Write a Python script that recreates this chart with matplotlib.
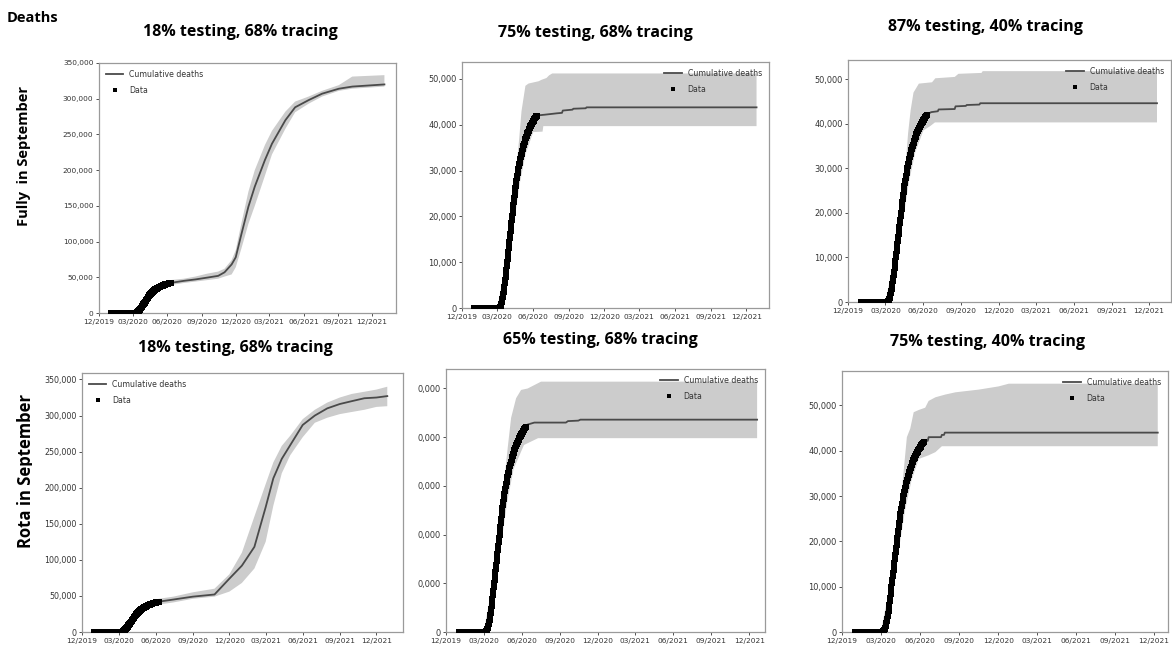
import numpy as np
import pandas as pd
import matplotlib
matplotlib.use('Agg')
import matplotlib.pyplot as plt
import matplotlib.dates as mdates
from matplotlib.ticker import FuncFormatter, MultipleLocator
from matplotlib.transforms import Bbox, TransformedBbox

# ------------------------- observed data (same in all panels) -------------------------
data_start, data_end = '2020-01-01', '2020-06-10'
data_deaths = [0] * 60 + [
    0, 0, 0, 0, 10,
    50, 150, 280, 430, 600,
    900, 1250, 1600, 2000, 2450,
    2950, 3450, 4000, 4650, 5350,
    6050, 6800, 7600, 8400, 9200,
    10000, 10750, 11500, 12250, 13000, 13750,
    14500, 15300, 16100, 16900, 17700,
    18500, 19250, 20000, 20800, 21600,
    22400, 23200, 24000, 24750, 25500,
    26100, 26700, 27250, 27800, 28350,
    28900, 29450, 30000, 30450, 30900,
    31350, 31750, 32150, 32550, 32950,
    33300, 33650, 34000, 34350, 34700,
    35000, 35300, 35600, 35900, 36200,
    36500, 36800, 37050, 37300, 37600,
    37850, 38100, 38300, 38500, 38700,
    38900, 39100, 39300, 39500, 39650,
    39800, 40000, 40150, 40300, 40450, 40600,
    40750, 40900, 41100, 41250, 41400,
    41550, 41700, 41800, 41900, 42000]

# ------------------------- model runs -------------------------
# panel 1: Fully in September, 18% testing, 68% tracing
p1_med_dates = ['2020-01-01', '2020-03-08', '2020-03-26', '2020-04-10', '2020-04-25', '2020-05-10', '2020-06-08',
                '2020-07-15', '2020-08-15', '2020-09-15', '2020-10-15', '2020-11-01', '2020-11-20', '2020-12-01',
                '2020-12-16', '2021-01-04', '2021-01-21', '2021-02-17', '2021-03-08', '2021-04-13', '2021-05-09',
                '2021-06-14', '2021-07-20', '2021-09-03', '2021-10-09', '2022-01-03']
p1_med = [0, 0, 10000, 21000, 30000, 36000, 42000,
          45000, 47000, 49500, 52000, 57000, 68000, 78000,
          110000, 149000, 177000, 214000, 237000, 270000, 288000,
          298000, 307000, 314000, 317000, 320000]
p1_up_dates = ['2020-03-05', '2020-03-22', '2020-04-06', '2020-04-22', '2020-05-10', '2020-06-08',
               '2020-07-15', '2020-08-15', '2020-09-15', '2020-10-15', '2020-11-01', '2020-11-20', '2020-12-01',
               '2020-12-16', '2021-01-04', '2021-01-21', '2021-02-17', '2021-03-08', '2021-04-13', '2021-05-09',
               '2021-06-14', '2021-07-20', '2021-09-03', '2021-10-09', '2022-01-03']
p1_up = [0, 10000, 21000, 31000, 40000, 46000,
         48000, 51000, 55000, 58000, 62000, 74000, 88000,
         125000, 170000, 200000, 235000, 255000, 282000, 296000,
         303000, 311000, 319000, 331000, 333000]
p1_lo_dates = ['2020-03-10', '2020-03-30', '2020-04-15', '2020-05-01', '2020-05-20', '2020-06-08',
               '2020-07-15', '2020-08-15', '2020-09-15', '2020-10-15', '2020-11-01', '2020-11-20', '2020-12-01',
               '2020-12-16', '2021-01-04', '2021-01-21', '2021-02-17', '2021-03-08', '2021-04-13', '2021-05-09',
               '2021-06-14', '2021-07-20', '2021-09-03', '2021-10-09', '2022-01-03']
p1_lo = [0, 9000, 19000, 28000, 35000, 39000,
         42000, 44000, 46000, 48000, 51000, 54000, 64000,
         90000, 125000, 150000, 192000, 222000, 258000, 281000,
         293000, 303000, 311000, 314000, 317000]

# panel 2: Fully in September, 75% testing, 68% tracing
p2_med_dates = ['2020-01-01', '2020-03-05', '2020-03-26', '2020-04-08', '2020-04-23', '2020-05-06', '2020-05-27',
                '2020-06-08', '2020-07-01', '2020-08-01', '2020-08-14', '2020-08-16', '2020-09-10', '2020-09-12',
                '2020-10-14', '2020-10-16', '2021-12-27']
p2_med = [0, 0, 10000, 20000, 30000, 35000, 40000,
          42000, 42200, 42500, 42600, 43100, 43300, 43500,
          43600, 43800, 43800]
p2_up_dates = ['2020-03-01', '2020-03-22', '2020-04-04', '2020-04-18', '2020-04-26', '2020-05-02', '2020-05-12',
               '2020-05-20', '2020-06-15', '2020-06-22', '2020-07-05', '2020-07-12', '2020-07-20', '2021-12-27']
p2_up = [0, 10000, 20000, 30000, 37000, 43000, 48500,
         49000, 49500, 49800, 50200, 50800, 51200, 51200]
p2_lo_dates = ['2020-03-09', '2020-03-30', '2020-04-12', '2020-04-27', '2020-05-12', '2020-06-01', '2020-06-25',
               '2020-06-27', '2021-12-27']
p2_lo = [0, 9000, 18000, 27000, 33500, 38400, 38500, 39700, 39700]

# panel 3: Fully in September, 87% testing, 40% tracing
p3_med_dates = ['2020-01-01', '2020-03-05', '2020-03-26', '2020-04-08', '2020-04-23', '2020-05-06', '2020-05-27',
                '2020-06-08', '2020-06-20', '2020-07-06', '2020-07-08', '2020-08-16', '2020-08-18', '2020-09-12',
                '2020-09-14', '2020-10-15', '2020-10-17', '2021-12-20']
p3_med = [0, 0, 10000, 20000, 30000, 35000, 40000,
          42000, 42600, 42800, 43200, 43300, 43900, 44000,
          44200, 44300, 44600, 44600]
p3_up_dates = ['2020-03-01', '2020-03-22', '2020-04-04', '2020-04-18', '2020-04-25', '2020-05-01', '2020-05-08',
               '2020-05-21', '2020-06-22', '2020-06-30', '2020-08-16', '2020-08-25', '2020-10-20', '2020-10-23',
               '2021-12-20']
p3_up = [0, 10000, 20000, 30000, 38000, 43000, 47000,
         49000, 49300, 50200, 50500, 51200, 51400, 51800,
         51800]
p3_lo_dates = ['2020-03-09', '2020-03-30', '2020-04-12', '2020-04-27', '2020-05-12', '2020-06-01', '2020-06-18',
               '2020-06-29', '2021-12-20']
p3_lo = [0, 9000, 18000, 27000, 33500, 38500, 39500, 40300, 40300]

# panel 4: Rota in September, 18% testing, 68% tracing
p4_med_dates = ['2020-01-01', '2020-03-08', '2020-03-26', '2020-04-10', '2020-04-25', '2020-05-10', '2020-06-08',
                '2020-07-15', '2020-09-01', '2020-10-25', '2020-12-01', '2021-01-01', '2021-02-01', '2021-03-01',
                '2021-03-20', '2021-04-10', '2021-05-01', '2021-06-01', '2021-07-01', '2021-08-01', '2021-09-01',
                '2021-10-01', '2021-11-01', '2021-12-01', '2021-12-28']
p4_med = [0, 0, 10000, 21000, 30000, 36000, 42000,
          45000, 49000, 52000, 74000, 92000, 118000, 173000,
          213000, 240000, 259000, 287000, 300000, 310000, 316000,
          320000, 324000, 325000, 327000]
p4_up_dates = ['2020-03-05', '2020-03-22', '2020-04-06', '2020-04-22', '2020-05-10', '2020-06-08',
               '2020-07-15', '2020-09-01', '2020-10-25', '2020-12-01', '2021-01-01', '2021-02-01', '2021-03-01',
               '2021-03-20', '2021-04-10', '2021-05-01', '2021-06-01', '2021-07-01', '2021-08-01', '2021-09-01',
               '2021-10-01', '2021-11-01', '2021-12-01', '2021-12-28']
p4_up = [0, 10000, 21000, 31000, 40000, 46000,
         49000, 55000, 60000, 80000, 110000, 160000, 205000,
         235000, 258000, 272000, 295000, 308000, 318000, 325000,
         330000, 333000, 336000, 340000]
p4_lo_dates = ['2020-03-10', '2020-03-30', '2020-04-15', '2020-05-01', '2020-05-20', '2020-06-08',
               '2020-07-15', '2020-09-01', '2020-10-25', '2020-12-01', '2021-01-01', '2021-02-01', '2021-03-01',
               '2021-03-20', '2021-04-10', '2021-05-01', '2021-06-01', '2021-07-01', '2021-08-01', '2021-09-01',
               '2021-10-01', '2021-11-01', '2021-12-01', '2021-12-28']
p4_lo = [0, 9000, 19000, 28000, 35000, 38000,
         41000, 46000, 49000, 56000, 68000, 88000, 125000,
         175000, 220000, 245000, 270000, 290000, 297000, 302000,
         305000, 308000, 312000, 313000]

# panel 5: Rota in September, 65% testing, 68% tracing
p5_med_dates = ['2020-01-01', '2020-03-05', '2020-03-26', '2020-04-08', '2020-04-23', '2020-05-06', '2020-05-27',
                '2020-06-08', '2020-06-15', '2020-07-01', '2020-09-15', '2020-09-20', '2020-10-15', '2020-10-20',
                '2021-12-20']
p5_med = [0, 0, 10000, 20000, 30000, 35000, 40000,
          42000, 42600, 43000, 43000, 43300, 43400, 43600,
          43600]
p5_up_dates = ['2020-03-01', '2020-03-22', '2020-04-04', '2020-04-18', '2020-04-28', '2020-05-06', '2020-05-18',
               '2020-05-30', '2020-06-15', '2020-07-01', '2020-07-17', '2021-12-20']
p5_up = [0, 10000, 20000, 30000, 38000, 44000, 48000, 49700, 50000, 50700, 51400, 51400]
p5_lo_dates = ['2020-03-09', '2020-03-30', '2020-04-12', '2020-04-27', '2020-05-12', '2020-06-06', '2020-06-23',
               '2020-07-10', '2021-12-20']
p5_lo = [0, 9000, 18000, 27000, 33500, 38400, 39100, 39800, 39800]

# panel 6: Rota in September, 75% testing, 40% tracing
p6_med_dates = ['2020-01-01', '2020-03-05', '2020-03-26', '2020-04-08', '2020-04-23', '2020-05-06', '2020-05-27',
                '2020-06-08', '2020-06-19', '2020-06-21', '2020-07-20', '2020-07-22', '2020-07-27', '2020-07-29',
                '2021-12-10']
p6_med = [0, 0, 10000, 20000, 30000, 35000, 40000,
          42000, 42200, 43000, 43000, 43500, 43500, 44000,
          44000]
p6_up_dates = ['2020-03-01', '2020-03-22', '2020-04-04', '2020-04-18', '2020-05-01', '2020-05-09', '2020-05-17',
               '2020-05-29', '2020-06-13', '2020-06-21', '2020-07-07', '2020-07-30', '2020-08-23', '2020-10-17',
               '2020-12-02', '2020-12-26', '2021-12-10']
p6_up = [0, 10000, 20000, 30000, 43000, 44900, 48500,
         49000, 49500, 51000, 51800, 52400, 52900, 53500,
         54200, 54800, 54800]
p6_lo_dates = ['2020-03-09', '2020-03-30', '2020-04-12', '2020-04-27', '2020-05-12', '2020-05-29', '2020-06-21',
               '2020-07-07', '2020-07-22', '2021-12-10']
p6_lo = [0, 9000, 18000, 27000, 33500, 38200, 39000, 39700, 41000, 41000]

titles = ['18% testing, 68% tracing', '75% testing, 68% tracing', '87% testing, 40% tracing',
          '18% testing, 68% tracing', '65% testing, 68% tracing', '75% testing, 40% tracing']
row_labels = ['Fully  in September', 'Rota in September']

# ------------------------- layout (pixels of the 1172x645 picture) -------------------------
W, H = 1172, 645
fig = plt.figure(figsize=(W / 100, H / 100), dpi=100)

def d2n(lst):
    return mdates.date2num(pd.to_datetime(lst))

def px_axes(l, t, r, b):
    return fig.add_axes([l / W, 1 - b / H, (r - l) / W, (b - t) / H])

comma = FuncFormatter(lambda v, p: f'{v:,.0f}')
cropped = FuncFormatter(lambda v, p: f'{v:,.0f}'[1:] if v > 0 else '0')

panels = [
    dict(rect=(99, 63, 396, 313), xlim=('2019-12-01', '2022-02-03'), ylim=350000, step=50000,
         med=(p1_med_dates, p1_med), up=(p1_up_dates, p1_up), lo=(p1_lo_dates, p1_lo),
         title=(240, 32), loc='upper left', fmt=comma, yfs=5.3),
    dict(rect=(462, 62, 769, 308), xlim=('2019-12-01', '2022-01-28'), ylim=53700, step=10000,
         med=(p2_med_dates, p2_med), up=(p2_up_dates, p2_up), lo=(p2_lo_dates, p2_lo),
         title=(595, 33), loc='upper right', fmt=comma, yfs=5.9),
    dict(rect=(848, 60, 1171, 302), xlim=('2019-12-01', '2022-01-23'), ylim=54300, step=10000,
         med=(p3_med_dates, p3_med), up=(p3_up_dates, p3_up), lo=(p3_lo_dates, p3_lo),
         title=(985, 27), loc='upper right', fmt=comma, yfs=5.9),
    dict(rect=(82, 373, 403, 632), xlim=('2019-12-01', '2022-02-05'), ylim=359000, step=50000,
         med=(p4_med_dates, p4_med), up=(p4_up_dates, p4_up), lo=(p4_lo_dates, p4_lo),
         title=(235, 348), loc='upper left', fmt=comma, yfs=5.7),
    dict(rect=(446, 369, 765, 632), xlim=('2019-12-01', '2022-01-08'), ylim=54000, step=10000,
         med=(p5_med_dates, p5_med), up=(p5_up_dates, p5_up), lo=(p5_lo_dates, p5_lo),
         title=(600, 340), loc='upper right', fmt=cropped, yfs=5.9),
    dict(rect=(842, 371, 1168, 632), xlim=('2019-12-01', '2022-01-03'), ylim=57600, step=10000,
         med=(p6_med_dates, p6_med), up=(p6_up_dates, p6_up), lo=(p6_lo_dates, p6_lo),
         title=(987, 342), loc='upper right', fmt=comma, yfs=5.9),
]

data_x = mdates.date2num(pd.date_range(data_start, data_end))

for i, p in enumerate(panels):
    ax = px_axes(*p['rect'])
    ux, uy = d2n(p['up'][0]), np.array(p['up'][1])
    lx, ly = d2n(p['lo'][0]), np.array(p['lo'][1])
    ax.fill(np.concatenate([ux, lx[::-1]]), np.concatenate([uy, ly[::-1]]),
            color='#cccccc', lw=0, zorder=1)
    ax.plot(d2n(p['med'][0]), p['med'][1], color='#4a4a4a', lw=1.3, zorder=2, label='Cumulative deaths')
    ax.plot(data_x, data_deaths, 's', color='black', ms=4.4, mew=0, zorder=3, label='Data')

    ax.set_xlim(d2n(list(p['xlim'])))
    ax.set_ylim(0, p['ylim'])
    ax.xaxis.set_major_locator(mdates.MonthLocator(bymonth=[3, 6, 9, 12]))
    ax.xaxis.set_major_formatter(mdates.DateFormatter('%m/%Y'))
    ax.yaxis.set_major_locator(MultipleLocator(p['step']))
    ax.yaxis.set_major_formatter(p['fmt'])
    ax.tick_params(axis='x', labelsize=5.3, length=2.5, width=0.6, pad=1.5, colors='#333333')
    ax.tick_params(axis='y', labelsize=p['yfs'], length=2.5, width=0.6, pad=1.5, colors='#333333')
    for s in ax.spines.values():
        s.set_color('#9a9a9a')
        s.set_linewidth(0.9)

    ax.legend(loc=p['loc'], frameon=False, fontsize=5.6, handlelength=2.2, borderaxespad=0.5,
              labelspacing=0.9, markerscale=0.6, labelcolor='#333333')

    tx, ty = p['title']
    fig.text(tx / W, 1 - ty / H, titles[i], ha='center', va='center', fontsize=11.5,
             fontweight='bold', family='Open Sans')

fig.text(7 / W, 1 - 18 / H, 'Deaths', ha='left', va='center', fontsize=10.5,
         fontweight='bold', family='Open Sans')
fig.text(24 / W, 1 - 156 / H, row_labels[0], ha='center', va='center', rotation=90,
         fontsize=10.5, fontweight='bold', family='Open Sans')
rota = fig.text(26.5 / W, 1 - 471 / H, row_labels[1], ha='center', va='center', rotation=90,
                fontsize=12, fontweight='bold', family='Open Sans')
rota.set_clip_box(TransformedBbox(Bbox([[0, 0], [32 / W, 1]]), fig.transFigure))
rota.set_clip_on(True)

fig.savefig('out.png', dpi=100)
